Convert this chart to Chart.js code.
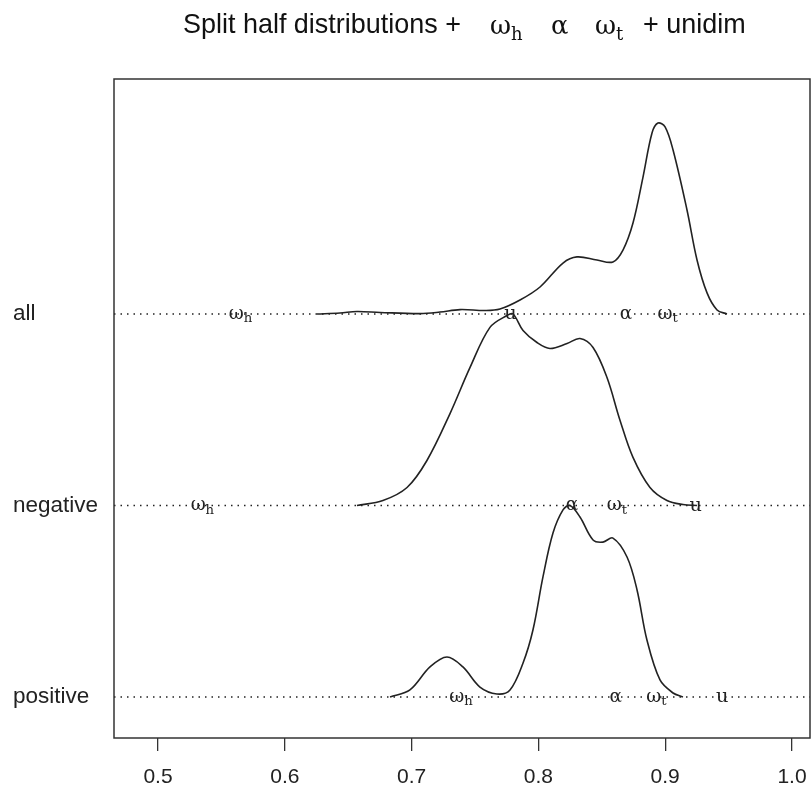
<!DOCTYPE html>
<html><head><meta charset="utf-8">
<script src="https://cdn.jsdelivr.net/npm/chart.js@4.4.0/dist/chart.umd.min.js"></script>
<style>html,body{margin:0;padding:0;background:#fff;}canvas{display:block;}</style>
</head><body>
<canvas id="c" width="812" height="804"></canvas>
<script>
// ---- data ----
const ridgeNames = ["all", "negative", "positive"];
const ridgeLevels = [3, 2, 1];

const allX = [0.6254, 0.6435, 0.6569, 0.6751, 0.7066, 0.7224, 0.7382, 0.7579, 0.7697, 0.7855, 0.8013, 0.8194, 0.8304, 0.8462, 0.8588, 0.8667, 0.8746, 0.8825, 0.8896, 0.8943, 0.8999, 0.9062, 0.9172, 0.9251, 0.9330, 0.9409, 0.9487];
const allDensity = [0, 0.005, 0.013, 0.008, 0.002, 0.010, 0.023, 0.018, 0.026, 0.073, 0.141, 0.266, 0.298, 0.282, 0.272, 0.334, 0.475, 0.715, 0.945, 0.997, 0.977, 0.856, 0.543, 0.282, 0.110, 0.021, 0];

const negativeX = [0.6569, 0.6774, 0.6964, 0.7121, 0.7303, 0.7461, 0.7618, 0.7752, 0.7800, 0.7879, 0.7989, 0.8091, 0.8226, 0.8328, 0.8431, 0.8541, 0.8644, 0.8746, 0.8880, 0.9014, 0.9140, 0.9251];
const negativeDensity = [0, 0.026, 0.094, 0.235, 0.480, 0.721, 0.930, 0.992, 1.0, 0.914, 0.851, 0.820, 0.846, 0.872, 0.825, 0.668, 0.444, 0.251, 0.094, 0.026, 0.005, 0];

const positiveX = [0.6830, 0.6987, 0.7145, 0.7279, 0.7405, 0.7539, 0.7673, 0.7776, 0.7879, 0.7957, 0.8036, 0.8115, 0.8194, 0.8249, 0.8328, 0.8431, 0.8509, 0.8588, 0.8699, 0.8778, 0.8856, 0.8959, 0.9062, 0.9140];
const positiveDensity = [0, 0.037, 0.157, 0.209, 0.157, 0.052, 0.016, 0.037, 0.178, 0.350, 0.627, 0.856, 0.977, 1.0, 0.940, 0.820, 0.809, 0.830, 0.731, 0.559, 0.298, 0.089, 0.021, 0];

// markers: omega_h, alpha, omega_t, unidim
const markerSymbols = ["ω", "α", "ω", "u"];
const markerSubscripts = ["h", "", "t", ""];
const allMarkerX = [0.565, 0.869, 0.902, 0.778];
const negativeMarkerX = [0.535, 0.8265, 0.862, 0.924];
const positiveMarkerX = [0.739, 0.861, 0.893, 0.945];

const xTicks = [0.5, 0.6, 0.7, 0.8, 0.9, 1.0];
const titleStart = "Split half distributions +";
const titleEnd = "+ unidim";

// ---- build ----
const xMin = 0.4653, xMax = 1.0142, yMin = 0.786, yMax = 4.227;
const ridgeX = [allX, negativeX, positiveX];
const ridgeD = [allDensity, negativeDensity, positiveDensity];
const ridgeMarkerX = [allMarkerX, negativeMarkerX, positiveMarkerX];

const datasets = [];
ridgeX.forEach((xs, r) => {
  datasets.push({
    data: xs.map((v, i) => ({x: v, y: ridgeLevels[r] + ridgeD[r][i]})),
    showLine: true, pointRadius: 0, borderColor: '#222', borderWidth: 1.6,
    tension: 0.35, fill: false
  });
});
ridgeLevels.forEach(l => {
  datasets.push({
    data: [{x: xMin, y: l}, {x: xMax, y: l}],
    showLine: true, pointRadius: 0, borderColor: '#222', borderWidth: 1.5,
    borderDash: [1.5, 5]
  });
});

function fitSize(ctx, text, family, width) {
  ctx.font = '100px ' + family;
  return 100 * width / ctx.measureText(text).width;
}
const SERIF = '"DejaVu Serif", "Liberation Serif", serif';
const SANS = '"Liberation Sans", Arial, sans-serif';

function drawSym(ctx, cx, cy, sym, sub, s1, s2, dy) {
  ctx.font = s1 + 'px ' + SERIF;
  const w1 = ctx.measureText(sym).width;
  ctx.font = s2 + 'px ' + SERIF;
  const w2 = sub ? ctx.measureText(sub).width : 0;
  const x0 = cx - (w1 + w2) / 2;
  ctx.textAlign = 'left';
  ctx.textBaseline = 'middle';
  ctx.font = s1 + 'px ' + SERIF;
  ctx.fillText(sym, x0, cy);
  if (sub) { ctx.font = s2 + 'px ' + SERIF; ctx.fillText(sub, x0 + w1, cy + dy); }
}

const decor = {
  id: 'decor',
  afterDatasetsDraw(chart) {
    const {ctx, chartArea: a, scales: {x, y}} = chart;
    ctx.save();
    ctx.strokeStyle = '#333'; ctx.lineWidth = 1.5;
    ctx.strokeRect(a.left, a.top, a.right - a.left, a.bottom - a.top);
    ctx.fillStyle = '#222';
    const s1 = fitSize(ctx, 'ω', SERIF, 15);
    const s2 = s1 * 0.72;
    ridgeMarkerX.forEach((xs, r) => {
      const py = y.getPixelForValue(ridgeLevels[r]);
      xs.forEach((v, k) => {
        const sym = markerSymbols[k];
        const size = sym === 'u' ? s1 * 1.05 : s1;
        drawSym(ctx, x.getPixelForValue(v), py, sym, markerSubscripts[k], size, s2, 5);
      });
    });
    // title
    ctx.fillStyle = '#111';
    ctx.textAlign = 'left'; ctx.textBaseline = 'alphabetic';
    const ts = fitSize(ctx, titleStart, SANS, 278);
    ctx.font = ts + 'px ' + SANS;
    ctx.fillText(titleStart, 183, 33);
    ctx.fillText(titleEnd, 643, 33);
    const g = fitSize(ctx, 'ω', SERIF, 21);
    const gs = g * 0.7;
    ctx.font = g + 'px ' + SERIF;
    ctx.fillText('ω', 490, 34);
    ctx.fillText('α', 551, 34);
    ctx.fillText('ω', 595, 34);
    ctx.font = gs + 'px ' + SERIF;
    ctx.fillText('h', 511, 40);
    ctx.fillText('t', 616, 40);
    ctx.restore();
  }
};

new Chart(document.getElementById('c'), {
  type: 'scatter',
  data: {datasets},
  options: {
    responsive: false, animation: false, devicePixelRatio: 1,
    layout: {padding: {left: 13, right: 2, top: 79, bottom: 0}},
    plugins: {legend: {display: false}, tooltip: {enabled: false}, title: {display: false}},
    scales: {
      x: {
        type: 'linear', min: xMin, max: xMax,
        afterBuildTicks: s => { s.ticks = xTicks.map(v => ({value: v})); },
        afterFit: s => { s.height = 66; s.paddingLeft = 0; s.paddingRight = 0; },
        grid: {display: true, drawOnChartArea: false, drawTicks: true, tickLength: 13, color: '#333', lineWidth: 1.3},
        border: {display: false},
        ticks: {color: '#222', font: {family: SANS, size: 21}, padding: 14, autoSkip: false, maxRotation: 0,
                callback: v => Number(v).toFixed(1)}
      },
      y: {
        type: 'linear', min: yMin, max: yMax,
        afterBuildTicks: s => { s.ticks = ridgeLevels.map(v => ({value: v})); },
        afterFit: s => { s.width = 101; s.paddingTop = 0; s.paddingBottom = 0; },
        grid: {display: false, drawTicks: false},
        border: {display: false},
        ticks: {crossAlign: 'far', color: '#222', font: {family: SANS, size: 22.5}, autoSkip: false,
                callback: v => ridgeNames[ridgeLevels.indexOf(v)]}
      }
    }
  },
  plugins: [decor]
});
</script>
</body></html>
